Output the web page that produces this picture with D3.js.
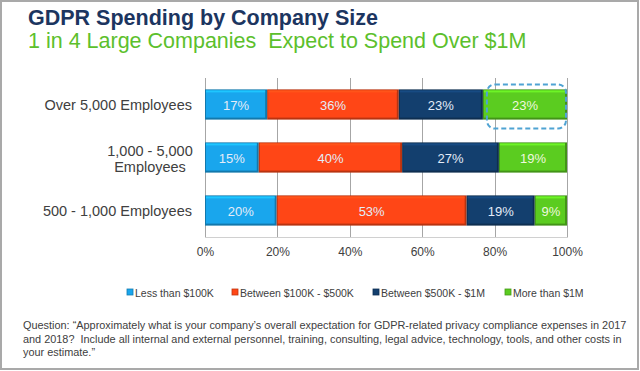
<!DOCTYPE html>
<html>
<head>
<meta charset="utf-8">
<script src="https://cdn.jsdelivr.net/npm/d3@7/dist/d3.min.js"></script>
<style>
  body { margin: 0; background: #fff; }
  svg { display: block; font-family: Arial, "Liberation Sans", sans-serif; }
</style>
</head>
<body>
<div id="chart"></div>
<script>
var
  categories = ["Over 5,000 Employees", "1,000 - 5,000|Employees", "500 - 1,000 Employees"],
  seriesNames = ["Less than $100K", "Between $100K - $500K", "Between $500K - $1M", "More than $1M"],
  seriesColors = ["#19a6ed", "#ff4616", "#133f6e", "#5bcc20"],
  lessThan100K = [17, 15, 20],
  from100Kto500K = [36, 40, 53],
  from500Kto1M = [23, 27, 19],
  moreThan1M = [23, 19, 9],
  tickValues = [0, 20, 40, 60, 80, 100],
  highlight = { row: 0, series: 3 };

var
  WIDTH = 640,
  HEIGHT = 371,
  TEXT_COLOR = "#404040",
  GRID_COLOR = "#a6a6a6";

var series = [lessThan100K, from100Kto500K, from500Kto1M, moreThan1M];

var svg = d3.select("#chart").append("svg")
  .attr("width", WIDTH)
  .attr("height", HEIGHT);

// outer frame
svg.append("rect")
  .attr("x", 1).attr("y", 1)
  .attr("width", WIDTH - 3).attr("height", HEIGHT - 3)
  .attr("fill", "#fff")
  .attr("stroke", "#a9a9a9")
  .attr("stroke-width", 2);

svg.append("text")
  .attr("x", 28).attr("y", 25)
  .attr("font-size", 21.5).attr("font-weight", "bold")
  .attr("fill", "#1c3560")
  .text("GDPR Spending by Company Size");

svg.append("text")
  .attr("x", 28).attr("y", 48)
  .attr("font-size", 21.5)
  .attr("fill", "#5cc02c")
  .attr("xml:space", "preserve")
  .style("white-space", "pre")
  .text("1 in 4 Large Companies  Expect to Spend Over $1M");

var x = d3.scaleLinear().domain([0, 100]).range([205, 567]);
var y = d3.scaleBand()
  .domain(categories)
  .range([78, 237])
  .paddingInner(0.43)
  .paddingOuter(0.215);

// gridlines
svg.append("g")
  .selectAll("line")
  .data(tickValues)
  .join("line")
  .attr("x1", function(d){ return Math.round(x(d)) + 0.5; })
  .attr("x2", function(d){ return Math.round(x(d)) + 0.5; })
  .attr("y1", 78).attr("y2", 237)
  .attr("stroke", GRID_COLOR);

svg.append("line")
  .attr("x1", x(0)).attr("x2", x(100) + 1)
  .attr("y1", 237.5).attr("y2", 237.5)
  .attr("stroke", "#d0d0d0");

// x axis labels
var xAxis = d3.axisBottom(x)
  .tickValues(tickValues)
  .tickSize(0)
  .tickPadding(0)
  .tickFormat(function(d){ return d + "%"; });

var axisG = svg.append("g")
  .attr("transform", "translate(0,247)")
  .call(xAxis);
axisG.select(".domain").remove();
axisG.selectAll("text")
  .attr("font-size", 12)
  .attr("font-family", "Arial, 'Liberation Sans', sans-serif")
  .attr("fill", TEXT_COLOR);

// category labels
categories.forEach(function(cat){
  var lines = cat.split("|"),
      cy = y(cat) + y.bandwidth() / 2,
      t = svg.append("text")
        .attr("font-size", 14.5)
        .attr("fill", TEXT_COLOR);
  if (lines.length === 1) {
    t.attr("x", 192).attr("y", cy + 5).attr("text-anchor", "end").text(cat);
  } else {
    lines.forEach(function(line, i){
      t.append("tspan")
        .attr("x", 150)
        .attr("y", cy - 2 + i * 16)
        .attr("text-anchor", "middle")
        .text(line);
    });
  }
});

// stacked bars
categories.forEach(function(cat, row){
  var total = d3.sum(series, function(s){ return s[row]; }),
      start = 0,
      by = y(cat),
      bh = y.bandwidth();

  series.forEach(function(s, k){
    var v = s[row],
        x0 = x(start / total * 100),
        x1 = x((start + v) / total * 100),
        color = d3.color(seriesColors[k]),
        g = svg.append("g");

    g.append("rect")
      .attr("x", x0).attr("y", by)
      .attr("width", x1 - x0).attr("height", bh)
      .attr("fill", color.darker(0.9));
    g.append("rect")
      .attr("x", x0 + 1).attr("y", by + 1)
      .attr("width", x1 - x0 - 3).attr("height", bh - 3)
      .attr("fill", color);
    g.append("rect")
      .attr("x", x0 + 1).attr("y", by + 1)
      .attr("width", x1 - x0 - 3).attr("height", 2)
      .attr("fill", color.brighter(0.5));

    g.append("text")
      .attr("x", (x0 + x1) / 2)
      .attr("y", by + bh / 2 + 5)
      .attr("text-anchor", "middle")
      .attr("font-size", 13)
      .attr("fill", k === 3 ? "#eef8df" : "#e4ecf8")
      .text(v + "%");

    if (row === highlight.row && k === highlight.series) {
      svg.append("rect")
        .attr("x", x0 + 4).attr("y", by - 5)
        .attr("width", x1 - x0 - 5).attr("height", bh + 14)
        .attr("rx", 8).attr("ry", 8)
        .attr("fill", "none")
        .attr("stroke", "#4fa3d3")
        .attr("stroke-width", 2)
        .attr("stroke-dasharray", "5,3");
    }
    start += v;
  });
});

// legend
var legendX = [127, 232, 373, 505];
var legend = svg.append("g");
seriesNames.forEach(function(name, k){
  var c = d3.color(seriesColors[k]);
  legend.append("rect")
    .attr("x", legendX[k]).attr("y", 289)
    .attr("width", 6).attr("height", 6)
    .attr("fill", c)
    .attr("stroke", c.darker(0.8))
    .attr("stroke-width", 0.8);
  legend.append("text")
    .attr("x", legendX[k] + 8).attr("y", 297)
    .attr("font-size", 10.5)
    .attr("fill", TEXT_COLOR)
    .text(name);
});

// question footnote
var note = [
  "Question: \u201cApproximately what is your company\u2019s overall expectation for GDPR-related privacy compliance expenses in 2017",
  "and 2018?  Include all internal and external personnel, training, consulting, legal advice, technology, tools, and other costs in",
  "your estimate.\u201d"
];
svg.append("g")
  .selectAll("text")
  .data(note)
  .join("text")
  .attr("x", 23)
  .attr("y", function(d, i){ return 329 + i * 13.5; })
  .attr("font-size", 10.9)
  .attr("fill", TEXT_COLOR)
  .attr("xml:space", "preserve")
  .style("white-space", "pre")
  .text(function(d){ return d; });
</script>
</body>
</html>
